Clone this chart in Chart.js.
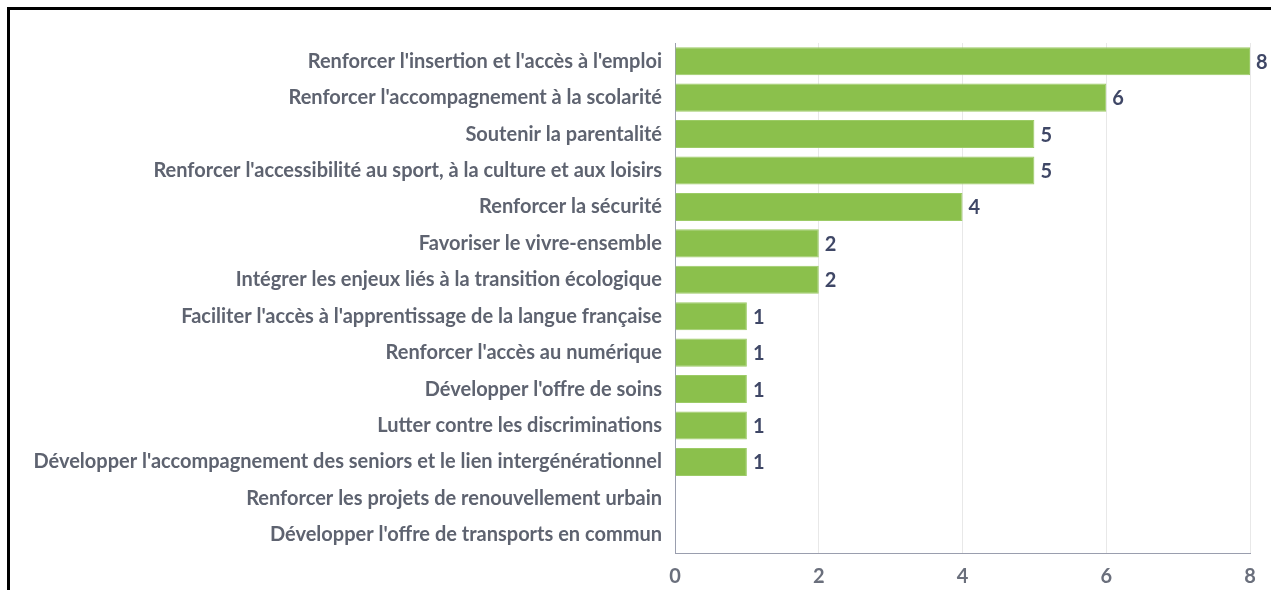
<!DOCTYPE html>
<html>
<head>
<meta charset="utf-8">
<script src="https://cdn.jsdelivr.net/npm/chart.js@4"></script>
<style>
    html, body { margin: 0; padding: 0; background: #fff; overflow: hidden; }
    #frame {
        position: absolute; left: 7px; top: 7px; width: 1300px; height: 620px;
        border-left: 3px solid #000; border-top: 3px solid #000;
    }
    #wrap { position: absolute; left: 0; top: 0; width: 1271px; height: 590px; }
</style>
</head>
<body>
<div id="frame"></div>
<div id="wrap"><canvas id="chart"></canvas></div>
<script>
// Categories and counts
const categories = [
    "Renforcer l'insertion et l'accès à l'emploi",
    "Renforcer l'accompagnement à la scolarité",
    "Soutenir la parentalité",
    "Renforcer l'accessibilité au sport, à la culture et aux loisirs",
    "Renforcer la sécurité",
    "Favoriser le vivre-ensemble",
    "Intégrer les enjeux liés à la transition écologique",
    "Faciliter l'accès à l'apprentissage de la langue française",
    "Renforcer l'accès au numérique",
    "Développer l'offre de soins",
    "Lutter contre les discriminations",
    "Développer l'accompagnement des seniors et le lien intergénérationnel",
    "Renforcer les projets de renouvellement urbain",
    "Développer l'offre de transports en commun"
];
const counts = [8, 6, 5, 5, 4, 2, 2, 1, 1, 1, 1, 1, 0, 0];
const xTicks = [0, 2, 4, 6, 8];

// Draws the value next to each non-empty bar
const valueLabels = {
    id: 'valueLabels',
    afterDatasetsDraw(chart) {
        const ctx = chart.ctx;
        const meta = chart.getDatasetMeta(0);
        ctx.save();
        ctx.font = 'bold 20px Lato';
        ctx.fillStyle = '#3f4766';
        ctx.textAlign = 'left';
        ctx.textBaseline = 'middle';
        meta.data.forEach((bar, i) => {
            const v = chart.data.datasets[0].data[i];
            if (!v) return;
            ctx.fillText(String(v), bar.x + 6, bar.y + 1);
        });
        ctx.restore();
    }
};

const ctx = document.getElementById('chart').getContext('2d');
new Chart(ctx, {
    type: 'bar',
    data: {
        labels: categories,
        datasets: [{
            data: counts,
            backgroundColor: '#8bc04c',
            borderColor: '#9ccb66',
            borderWidth: 1,
            barPercentage: 0.77,
            categoryPercentage: 1
        }]
    },
    options: {
        indexAxis: 'y',
        responsive: true,
        maintainAspectRatio: false,
        animation: false,
        layout: {
            padding: { top: 43, right: 21, bottom: 0, left: 0 }
        },
        plugins: {
            legend: { display: false },
            tooltip: { enabled: false }
        },
        scales: {
            x: {
                min: 0,
                max: 8,
                afterBuildTicks(scale) {
                    scale.ticks = xTicks.map(v => ({ value: v }));
                },
                afterFit(scale) { scale.height = 37; },
                grid: {
                    color: '#e8e8e8',
                    lineWidth: 1,
                    drawTicks: false
                },
                border: { display: true, color: '#9a9eae', width: 1 },
                ticks: {
                    color: '#6a6f7c',
                    font: { family: 'Lato', weight: 'bold', size: 20 },
                    padding: 12
                }
            },
            y: {
                afterFit(scale) { scale.width = 675; },
                grid: { display: false, drawTicks: false },
                border: { display: true, color: '#9a9eae', width: 1 },
                ticks: {
                    color: '#5e6370',
                    font: { family: 'Lato', weight: 'bold', size: 20 },
                    padding: 13,
                    autoSkip: false
                }
            }
        }
    },
    plugins: [valueLabels]
});
</script>
</body>
</html>
